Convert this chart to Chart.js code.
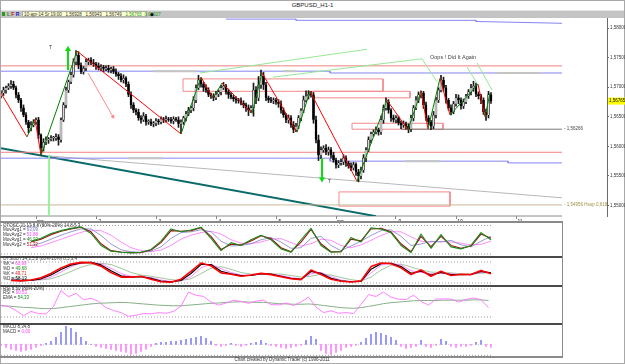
<!DOCTYPE html>
<html>
<head>
<meta charset="utf-8">
<script src="https://cdn.jsdelivr.net/npm/chart.js@4.4.1/dist/chart.umd.min.js"></script>
<style>
  body { margin: 0; width: 625px; height: 364px; position: relative; overflow: hidden; background: #fff;
         font-family: "Liberation Sans", Arial, sans-serif; }
  canvas, .a { position: absolute; }
  .txt { position: absolute; font-size: 4.5px; line-height: 4.9px; color: #333; white-space: nowrap; }
  .hl { position: absolute; left: 0; width: 562px; height: 2px; background: #4a4a4a; }
</style>
</head>
<body>
<div class="a" style="left:0;top:0;width:625px;height:364px;box-sizing:border-box;border:1px solid #a8a8a8"></div>
<div class="txt" style="left:0;top:2px;width:625px;text-align:center;font-size:6px;line-height:7px;color:#222">GBPUSD_H1-1</div>

<div class="a" style="left:1px;top:10px;width:623px;height:7px;background:#c4c4c4;border-top:1px solid #e4e4e4"></div>
<div class="a" style="left:2px;top:12px;width:3px;height:4px;background:#2a9a2a"></div>
<div class="txt" style="left:7px;top:11px;font-weight:bold;font-size:5px;line-height:6px"><span style="color:#2a8a2a">L</span> <span style="color:#c02020">F</span> <span style="color:#2020c0">R</span></div>
<div class="txt" style="left:22px;top:10.5px;width:125px;height:6px;line-height:6px;background:#ffffd6;border:1px solid #b0b0a0;box-sizing:border-box;padding-left:1px">10-apr-14 Sr 19:00&nbsp;&nbsp; 1,56928&nbsp;&nbsp; 1,56943&nbsp;&nbsp; 1,56749&nbsp;&nbsp; <span style="color:#1a9a1a">1,56765</span>&nbsp; <span style="color:#1a9a1a">0,00027</span></div>
<div class="txt" style="left:150px;top:11px;font-size:5px;line-height:6px;color:#000">&#9670;</div>

<canvas id="main" width="625" height="206" style="left:0;top:18px"></canvas>

<div class="hl" style="top:221px;background:#8a8a8a"></div>
<div class="hl" style="top:256px"></div>
<div class="hl" style="top:285px"></div>
<div class="hl" style="top:323px"></div>
<div class="hl" style="top:356px;background:#8a8a8a"></div>
<div class="a" style="left:562px;top:221px;width:1px;height:137px;background:#8a8a8a"></div>

<canvas id="osc" width="561" height="33" style="left:1px;top:223px"></canvas>
<canvas id="stoch" width="561" height="27" style="left:1px;top:258px"></canvas>
<canvas id="rsi" width="561" height="36" style="left:1px;top:287px"></canvas>
<canvas id="macd" width="561" height="31" style="left:1px;top:325px"></canvas>

<div class="txt" style="left:3px;top:223.5px">OTOSC 21,13,8,8 (80%-20%) 14,8,5,3<br>MovAvg1 = <span style="color:#6a6ad0">63,09</span><br>MovAvg2 = <span style="color:#ff40ff">51,88</span><br>MovAvg1 = <span style="color:#1a8a1a">46,93</span><br>MovAvg2 = <span style="color:#c01010">51,32</span></div>
<div class="txt" style="left:3px;top:257px">OTStoch 14,3,5,8 (80%-20%) 8,5,3,4<br>%K = <span style="color:#ff40ff">60,99</span><br>%D = <span style="color:#1a8a1a">49,68</span><br>%K = <span style="color:#e01010">49,71</span><br>%D = <span style="color:#000">58,13</span></div>
<div class="txt" style="left:3px;top:286.5px">RSI 8,50 (80%-20%)<br>RSI = <span style="color:#ff40ff">60,53</span><br>EMA = <span style="color:#1a8a1a">54,33</span></div>
<div class="txt" style="left:3px;top:325px">MACD 8,34,8<br>MACD = <span style="color:#ff40ff">0,00</span></div>
<div class="txt" style="left:0;top:357.5px;width:564px;text-align:center">Chart created by Dynamic Trader (c) 1996-2011</div>

<script>
// ---- price data (H1 bars, bar 0 = first day tick) ----
const firstBar = -14;
const firstOpen = 1.5685;
const closes = [
  1.5690, 1.5695, 1.5699, 1.5702, 1.5705, 1.5699, 1.5687, 1.5678, 1.5665, 1.5653, 1.5641, 1.5631, 1.5636, 1.5641,
  1.5645, 1.5619, 1.5597, 1.5607, 1.5611, 1.5612, 1.5614, 1.5614, 1.5616, 1.5611,
  1.5645, 1.5670, 1.5695, 1.5709, 1.5721, 1.5743, 1.5754, 1.5737, 1.5726, 1.5732,
  1.5743, 1.5746, 1.5741, 1.5739, 1.5736, 1.5732, 1.5734, 1.5731, 1.5732, 1.5729,
  1.5731, 1.5726, 1.5722, 1.5719, 1.5712, 1.5715, 1.5705, 1.5687, 1.5670, 1.5661,
  1.5658, 1.5648, 1.5645, 1.5651, 1.5641, 1.5641, 1.5638, 1.5639, 1.5643, 1.5641,
  1.5646, 1.5645, 1.5646, 1.5645, 1.5643, 1.5646, 1.5645, 1.5638, 1.5641, 1.5648,
  1.5655, 1.5661, 1.5665, 1.5678, 1.5699, 1.5712, 1.5705, 1.5699, 1.5695, 1.5687,
  1.5685, 1.5682, 1.5688, 1.5692, 1.5699, 1.5702, 1.5692, 1.5687, 1.5683, 1.5680,
  1.5678, 1.5677, 1.5673, 1.5670, 1.5665, 1.5661, 1.5665, 1.5695, 1.5682, 1.5704,
  1.5719, 1.5704, 1.5682, 1.5678, 1.5677, 1.5678, 1.5675, 1.5672, 1.5661, 1.5653,
  1.5645, 1.5648, 1.5636, 1.5628, 1.5634, 1.5648, 1.5661, 1.5678, 1.5685, 1.5688,
  1.5687, 1.5645, 1.5611, 1.5585, 1.5594, 1.5597, 1.5591, 1.5594, 1.5585, 1.5577,
  1.5569, 1.5572, 1.5574, 1.5580, 1.5572, 1.5567, 1.5564, 1.5569, 1.5557, 1.5550,
  1.5560, 1.5580, 1.5594, 1.5611, 1.5621, 1.5624, 1.5628, 1.5624, 1.5645, 1.5665,
  1.5675, 1.5661, 1.5648, 1.5645, 1.5648, 1.5639, 1.5636, 1.5638, 1.5634, 1.5629,
  1.5648, 1.5665, 1.5678, 1.5687, 1.5690, 1.5670, 1.5648, 1.5641, 1.5634, 1.5653,
  1.5678, 1.5695, 1.5712, 1.5699, 1.5678, 1.5665, 1.5658, 1.5672, 1.5682, 1.5678,
  1.5668, 1.5675, 1.5685, 1.5692, 1.5699, 1.5702, 1.5688, 1.5685, 1.5678, 1.5658,
  1.5653, 1.5687, 1.56765
];
// upper / lower wick sizes in pips
const wickHi = [
  4,5,3,4,6,5,3,4,3,5,4,3,6,4,
  3,4,2,6,5,3,4,3,5,4, 3,4,5,3,4,5,8,6,4,3, 5,3,4,6,3,5,4,3,4,5, 3,4,5,3,4,6,3,4,5,4,
  3,5,4,6,3,4,5,3,4,3, 4,3,5,3,4,4,3,5,4,3, 4,5,3,6,5,8,4,3,5,4, 3,4,5,3,4,6,3,5,4,3,
  4,3,5,4,3,5,4,12,6,14, 10,6,4,3,5,4,3,4,5,4, 3,5,4,6,5,4,3,7,9,6, 5,4,6,8,5,4,6,5,4,5,
  3,4,5,6,4,3,5,4,3,4, 5,6,4,5,3,4,5,3,6,5, 7,4,3,5,4,3,4,5,3,4, 5,4,6,5,4,3,5,4,3,6,
  5,4,8,5,4,3,5,4,6,5, 4,5,3,4,6,8,5,4,3,4, 5,6,4
];
const wickLo = [
  3,4,5,3,4,3,5,4,6,3,4,8,5,3,
  4,6,12,5,4,6,3,5,4,9, 4,3,5,4,3,4,5,6,3,4, 4,5,3,4,6,3,4,5,3,4, 5,3,4,6,3,5,4,3,6,4,
  5,4,6,3,5,4,3,5,4,4, 3,5,4,3,4,5,3,6,16,4, 5,3,4,5,4,3,5,6,4,3, 4,5,3,4,5,3,4,6,3,4,
  5,4,3,5,6,9,4,14,10,5, 6,8,5,4,3,5,4,6,5,4, 5,6,4,5,3,4,5,4,3,5, 4,6,5,9,6,4,5,6,5,4,
  6,5,4,5,6,4,5,4,6,10, 5,4,6,3,5,4,3,5,4,6, 4,5,6,4,5,3,6,4,5,6, 4,5,3,4,5,6,4,5,6,4,
  5,4,3,6,5,4,5,3,4,6, 5,4,3,4,5,6,4,5,6,4, 9,5,4
];

// axes
const priceMin = 1.54823, priceMax = 1.58169;
const priceTicks = [1.55, 1.555, 1.56, 1.565, 1.57, 1.575, 1.58];
const dayBars = [0, 24, 48, 72, 96, 120, 144, 168, 192];
const dayLabels = ['apr', '2', '3', '4', '5', 'apr', '9', '10', '11'];

// drawings on the price panel: [bar, price]
const zigzag = [[-14,1.5690],[-3.6,1.5616],[-0.4,1.5646],[2,1.5585],[16.4,1.5761],[58,1.5621],[66,1.5717],
  [70.8,1.5682],[74.4,1.5707],[86.4,1.5656],[90.4,1.5724],[104.4,1.5624],[109.6,1.5693],[128.4,1.5541],
  [140.4,1.5678],[148.8,1.5628],[154,1.5693],[156.8,1.5629],[161.6,1.5715],[165.6,1.5653],[176.8,1.5705],
  [179.6,1.5650],[181.6,1.5690]];
const redLines = [1.5736, 1.5590];
const hsupLine = 1.5501;
const pivotLine = 1.5629;
const blueUpper = [[-14,1.5727],[117.6,1.5727],[117.6,1.5724],[210.4,1.5724]];
const blueLower = [[-14,1.5580],[117.6,1.5580],[117.6,1.5575],[188.8,1.5575],[188.8,1.5572],[210.4,1.5572]];
const blueTop = [[76,1.5815],[104,1.5815],[104,1.5813],[176,1.5813],[176,1.5811],[210.4,1.5808]];
const grayMarks = [[[46.8,1.5727],[64.4,1.5727]], [[98.8,1.5727],[104.4,1.5727]], [[184.4,1.5724],[201.6,1.5724]],
  [[36.8,1.5580],[50.8,1.5580]], [[147.6,1.5575],[161.6,1.5575]]];
const grayDiag = [[4.8,1.5584],[210.4,1.5513]];
const tealLine = [[-14,1.5597],[136,1.5482]];
const greenVert = [[5.2,1.5585],[5.2,1.5482]];
const greenTrends = [[[65.6,1.5724],[132.4,1.5764]], [[94.8,1.5717],[154.4,1.5748],[160.4,1.5709]],
  [[172.4,1.5734],[176.8,1.5704]], [[176.4,1.5741],[182.4,1.5695]]];
const boxes = [[58.8,138.8,1.5714,1.5693],[110.8,149.6,1.5693,1.5682],[126.4,162.8,1.5639,1.5629],[121.2,165.6,1.5523,1.5499]];
const upArrow = [[12.8,1.5729],[12.8,1.5764]];
const downArrow = [[114.4,1.5580],[114.4,1.5545]];
const pinkArrow = [[20.8,1.5724],[30.8,1.5650]];
const notes = [
  { bar: 5.2, price: 1.5767, text: 'T', color: '#333', size: 5 },
  { bar: 116.8, price: 1.5541, text: 'T', color: '#333', size: 5 },
  { bar: 157.6, price: 1.5751, text: 'Oops ! Did It Again', color: '#444', size: 5.5 },
  { bar: 211.2, price: pivotLine, text: '- 1,56266', color: '#444', size: 4.5 },
  { bar: 211.2, price: hsupLine, text: '- 1,54956 Hsup 0,618', color: '#a09040', size: 4.5 }
];

// ---- indicators ----
const oscStart = -2, oscStep = 4;
const oscGreen = [45,55,72,82,90,95,72,30,10,6, 4,6,16,45,88,78,84,94,55,12, 40,30,50,66,50,18,6,50,90,30, 6,8,58,42,92,88,75,30,5,70, 20,68,25,18,30,75,50];
const oscRed = [42,52,68,80,88,94,78,36,12,7, 5,5,14,40,82,80,82,92,62,16, 34,32,46,64,54,22,8,42,86,36, 8,8,52,46,88,90,78,36,8,62, 26,62,30,20,28,70,55];
const oscBlue = [30,38,52,66,78,88,88,65,35,15, 8,6,10,25,55,75,78,85,78,45, 28,30,36,50,58,42,20,22,55,62, 30,12,28,45,65,82,85,62,30,35, 45,42,48,32,25,45,62];
const oscViolet = [22,28,40,52,64,76,84,82,66,42, 22,12,8,14,30,52,66,75,80,70, 50,38,36,42,52,54,40,28,36,52, 48,30,22,32,48,65,78,78,60,45, 42,44,42,38,32,34,45];

const stStart = -10, stStep = 4;
const stRed = [12,10,14,25,45,72,90,98,97,80, 50,28,28,32,18,6,4,18,55,95, 82,48,42,32,38,46,40,30,20,16, 62,40,18,8,5,10,78,95,92,72, 40,62,32,56,36,42,40,60,44];
const stBlack = [14,11,12,20,38,64,85,96,98,86, 58,34,28,30,22,9,5,12,45,88, 88,56,44,35,36,44,42,32,22,17, 55,46,22,10,6,8,65,92,94,78, 46,56,38,50,40,40,41,55,48];
const stPink = [18,14,12,16,28,52,78,94,98,92, 70,45,32,30,26,14,8,10,30,72, 90,68,50,38,36,42,44,36,26,20, 44,50,30,14,8,7,48,85,94,86, 58,50,44,46,44,40,40,50,50];
const stGreen = [25,20,16,15,20,35,55,75,88,94, 88,70,50,38,32,24,16,12,20,45, 70,78,65,50,42,42,44,42,36,28, 32,42,38,26,16,10,28,62,84,90, 76,62,52,50,48,44,42,46,50];

const rsiStart = -14, rsiStep = 3;
const rsiLine = [47,44,31,14,28,21,20,44,95,75, 86,66,70,60,40,31,24,12,16,21, 20,24,22,28,45,90,80,76,58,48, 55,64,60,54,61,64,50,49,55,47, 58,74,42,24,30,22,24,21,50,82, 76,90,74,67,66,80,60,48,68,68, 68,58,66,71,66,40];
const rsiEma = [46,45,43,41,40,38,37,37,40,43, 46,49,52,54,55,56,57,56,54,52, 50,48,47,46,46,48,50,52,54,55, 57,58,59,58,57,57,55,53,52,51, 51,52,50,47,44,41,39,38,40,44, 48,53,56,58,60,62,63,63,63,64, 64,64,64,65,65,63];

const macdStart = -14, macdStep = 2;
const macdHist = [-1,-3,-5,-6,-7,-6,-5,-3,-1,1, 3,7,12,18,16,12,7,3,0,-2, -3,-4,-5,-6,-7,-8,-10,-9,-7,-5,
  -2,1,2,2,3,3,4,5,6,7, 8,6,3,-1,-2,-1,1,-1,-2,-1, 1,2,4,1,-1,-2,-3,-4,-3,-2, -1,4,8,5,-6,-9,-10,-8,-6,-3,
  -2,-1,2,6,10,12,11,9,7,4, -2,-4,-3,-2,4,-2,-3,-1,5,3, -2,-3,-2,-2,-1,2,4,-2,-3];

// ---- build ----
Chart.defaults.font.family = '"Liberation Sans", Arial, sans-serif';
const pip = 0.0001;
const lastBar = firstBar + closes.length - 1;
const fmt = v => v.toFixed(5).replace('.', ',');
const pts = arr => arr.map(p => ({ x: p[0], y: p[1] }));

const bodies = [], wicks = [], bodyColors = [];
closes.forEach((c, i) => {
  const o = i === 0 ? firstOpen : closes[i - 1];
  const lo = Math.min(o, c), hi = Math.max(o, c);
  bodies.push({ x: firstBar + i, y: [lo, hi] });
  wicks.push({ x: firstBar + i, y: [lo - wickLo[i] * pip, hi + wickHi[i] * pip] });
  bodyColors.push(c >= o ? '#dcdcdc' : '#000000');
});

function line(arr, color, width, extra) {
  return Object.assign({ type: 'line', data: pts(arr), borderColor: color, borderWidth: width,
    pointRadius: 0, fill: false, tension: 0, order: 6 }, extra || {});
}
function arrow(arr, color, width, rot, size) {
  return line(arr, color, width, { order: 0, pointRadius: [0, size], pointStyle: 'triangle',
    pointRotation: rot, pointBackgroundColor: color, pointBorderColor: color, pointBorderWidth: 0 });
}
function box(b) {
  return line([[b[0], b[2]], [b[1], b[2]], [b[1], b[3]], [b[0], b[3]], [b[0], b[2]]], '#f28a8a', 1);
}
function series(vals, start, step) {
  return vals.map((v, k) => ({ x: start + step * k, y: v }));
}

const mainSets = [
  arrow(upArrow, '#10dd10', 2, 0, 3.5),
  arrow(downArrow, '#10dd10', 2, 180, 3.5),
  arrow(pinkArrow, '#ff8a8a', 1, 150, 2.5),
  { type: 'line', data: pts(zigzag), borderColor: '#ff0000', borderWidth: 1, pointRadius: 0, tension: 0, order: 1,
    segment: { borderColor: c => c.p1.parsed.y > c.p0.parsed.y ? '#008000' : '#ff0000' } },
  { type: 'bar', data: bodies, backgroundColor: bodyColors, borderColor: '#000', borderWidth: 0.5,
    barThickness: 2, grouped: false, minBarLength: 1, order: 2 },
  { type: 'bar', data: wicks, backgroundColor: '#1a1a1a', barThickness: 1, grouped: false, order: 3 },
  ...greenTrends.map(t => line(t, '#94e894', 1, { order: 1 })),
  line(greenVert, '#8cf08c', 1),
  ...redLines.map(p => line([[-14, p], [210.4, p]], '#f48080', 1)),
  line(blueUpper, '#8484f4', 1),
  line(blueLower, '#8484f4', 1),
  line(blueTop, '#8484f4', 1),
  ...grayMarks.map(g => line(g, '#c4c4c4', 2, { order: 5 })),
  line([[146, pivotLine], [210.4, pivotLine]], '#7a7a7a', 1),
  line([[-14, hsupLine], [210.4, hsupLine]], '#c8b898', 1),
  line(grayDiag, '#b8b8b8', 1),
  line(tealLine, '#0a6a6a', 2),
  ...boxes.map(box),
  line([[-14, priceMin], [210.4, priceMin]], '#8a8a8a', 1, { clip: false })
];

const notesPlugin = {
  id: 'notes',
  afterDatasetsDraw(chart) {
    const { ctx, scales: { x, y } } = chart;
    ctx.save();
    ctx.textBaseline = 'middle';
    ctx.textAlign = 'left';
    notes.forEach(n => {
      ctx.font = n.size + 'px "Liberation Sans", Arial, sans-serif';
      ctx.fillStyle = n.color;
      ctx.fillText(n.text, x.getPixelForValue(n.bar), y.getPixelForValue(n.price));
    });
    const last = closes[closes.length - 1];
    const py = y.getPixelForValue(last);
    ctx.fillStyle = '#ffff00';
    ctx.fillRect(y.left + 1, py - 3.5, 18, 7);
    ctx.fillStyle = '#000';
    ctx.font = '4.5px "Liberation Sans", Arial, sans-serif';
    ctx.fillText(fmt(last), y.left + 2, py);
    ctx.restore();
  }
};

new Chart(document.getElementById('main'), {
  type: 'bar',
  data: { datasets: mainSets },
  options: {
    responsive: false, animation: false, devicePixelRatio: 1, events: [],
    layout: { autoPadding: false, padding: { left: 1, right: 0, top: 0, bottom: 0 } },
    plugins: { legend: { display: false }, tooltip: { enabled: false } },
    scales: {
      x: {
        type: 'linear', min: firstBar, max: 228.4, offset: false,
        afterBuildTicks: s => { s.ticks = dayBars.map(v => ({ value: v })); },
        afterFit: s => { s.height = 8; s.paddingLeft = 0; s.paddingRight = 0; },
        border: { display: false },
        grid: { drawOnChartArea: false, tickLength: 3, color: '#8a8a8a', offset: false },
        ticks: { font: { size: 5 }, color: '#222', padding: 0, maxRotation: 0, autoSkip: false,
                 labelOffset: 4, callback: (v, i) => dayLabels[i] }
      },
      y: {
        position: 'right', min: priceMin, max: priceMax,
        afterBuildTicks: s => { s.ticks = priceTicks.map(v => ({ value: v })); },
        afterFit: s => { s.width = 18; s.paddingTop = 0; s.paddingBottom = 0; },
        border: { display: true, color: '#6a6a6a' },
        grid: { drawOnChartArea: false, tickLength: 2, color: '#6a6a6a' },
        ticks: { font: { size: 4.5 }, color: '#333', padding: 1, callback: v => fmt(v) }
      }
    }
  },
  plugins: [notesPlugin]
});

function panel(id, min, max, datasets, type) {
  new Chart(document.getElementById(id), {
    type: type || 'line',
    data: { datasets },
    options: {
      responsive: false, animation: false, devicePixelRatio: 1, events: [],
      layout: { autoPadding: false, padding: 0 },
      plugins: { legend: { display: false }, tooltip: { enabled: false } },
      elements: { line: { tension: 0, borderJoinStyle: 'round' }, point: { radius: 0 } },
      scales: {
        x: { type: 'linear', display: false, min: firstBar, max: 210.4, offset: false },
        y: { display: false, min, max }
      }
    }
  });
}
const level = (v, color) => ({ type: 'line', data: [{ x: firstBar, y: v }, { x: lastBar, y: v }],
  borderColor: color || '#9a9a9a', borderWidth: 1, borderDash: [1, 2], pointRadius: 0, order: 9 });
const ln = (vals, start, step, color, width) => ({ type: 'line', data: series(vals, start, step),
  borderColor: color, borderWidth: width, pointRadius: 0, fill: false });

panel('osc', -7, 108.8, [
  ln(oscGreen, oscStart, oscStep, '#1a8a1a', 1.1),
  ln(oscRed, oscStart, oscStep, '#9a1010', 1.1),
  ln(oscBlue, oscStart, oscStep, '#8080c8', 0.8),
  ln(oscViolet, oscStart, oscStep, '#ff70ff', 0.8),
  level(100), level(0)
]);
panel('stoch', -9.5, 119, [
  ln(stRed, stStart, stStep, '#ff0000', 1.6),
  ln(stBlack, stStart, stStep, '#000000', 1.2),
  ln(stPink, stStart, stStep, '#ff70ff', 0.8),
  ln(stGreen, stStart, stStep, '#88b888', 0.8),
  level(100), level(0)
]);
panel('rsi', -9.3, 106.4, [
  ln(rsiLine, rsiStart, rsiStep, '#ff70ff', 0.9),
  ln(rsiEma, rsiStart, rsiStep, '#78a878', 0.9),
  level(100), level(10)
]);
panel('macd', -11.7, 19.3, [
  { type: 'bar', data: series(macdHist, macdStart, macdStep), barThickness: 1, grouped: false,
    backgroundColor: macdHist.map(v => v >= 0 ? '#8484f4' : '#ff80ff') },
  level(0, '#c8c8c8'), level(-11)
], 'bar');
</script>
</body>
</html>
